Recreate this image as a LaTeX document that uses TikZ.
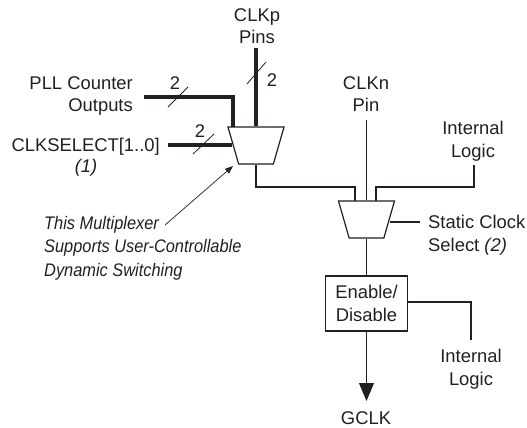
\documentclass[tikz,border=0pt]{standalone}
\usepackage{fontspec}
\setmainfont{Liberation Sans}
\newfontfamily\notefont[FakeStretch=0.9]{Liberation Sans}
\usepackage{tikz}
\usetikzlibrary{calc,arrows.meta,shapes.geometric}
\definecolor{ink}{HTML}{231F20}
\tikzset{
  x=1pt, y=-1pt,
  txt/.style={inner sep=0pt, align=center, text=ink, font=\fontsize{18.4}{22.5}\selectfont},
  thinwire/.style={draw=ink, line width=1.2pt},
  buswire/.style={draw=ink, line width=3.4pt},
  slashmark/.style={draw=ink, line width=0.8pt},
  muxbox/.style={trapezium, shape border rotate=180, draw=ink, line width=1.2pt,
    trapezium left angle=73, trapezium right angle=73, trapezium stretches=true,
    minimum width=56pt, minimum height=37pt, inner sep=1pt},
}
\begin{document}
\begin{tikzpicture}
\useasboundingbox (0,0) rectangle (527,428);
% labels
\node[txt] (clkp) at (257,26) {CLKp\\Pins};
\node[txt, align=right, anchor=east] (pll) at (133,96) {PLL Counter\\Outputs};
\node[txt, anchor=east] (clkselect) at (160,147) {CLKSELECT[1..0]};
\node[txt, font=\fontsize{18.4}{22.5}\selectfont\itshape] (noteone) at (86,168) {(1)};
\node[txt] (clkn) at (366,94) {CLKn\\Pin};
\node[txt] (logictop) at (473,141) {Internal\\Logic};
\node[txt, align=left, anchor=west] (static) at (428,235) {Static Clock\\Select \textit{(2)}};
\node[txt] (logicbot) at (471,369) {Internal\\Logic};
\node[txt] (gclk) at (366,418) {GCLK};
\node[txt, align=left, anchor=west, font=\notefont\fontsize{18.2}{23.6}\selectfont\itshape] (note) at (44,248) {This Multiplexer\\Supports User-Controllable\\Dynamic Switching};
\node[txt] (twoa) at (175,83) {2};
\node[txt] (twob) at (272,80) {2};
\node[txt] (twoc) at (200,131) {2};
% blocks
\node[muxbox] (muxa) at (256,145.5) {};
\node[muxbox] (muxb) at (366.5,219.5) {};
\node[draw=ink, line width=1.2pt, txt, minimum width=82pt, minimum height=55pt] (enable) at (366.5,303.5) {Enable/\\Disable};
% free ends
\coordinate (pllend) at (144,97);
\coordinate (clkpend) at (256,48);
\coordinate (selend) at (168,145);
\coordinate (muxaleft) at (233,127);
\coordinate (muxbleft) at (355,201);
\coordinate (muxbright) at (376,201);
\coordinate (muxbside) at (390,222);
\coordinate (staticend) at (420,222);
\coordinate (clknend) at (366.5,120);
\coordinate (logictopend) at (474,165);
\coordinate (logicbotend) at (471,340);
\coordinate (noteend) at (165,225);
% wires
\draw[buswire] (pllend) -| (muxaleft);
\draw[buswire] (clkpend) -- (muxa.north);
\draw[buswire] (selend) -- (232,145);
\draw[thinwire] (muxa.south) |- (355,187) -- (muxbleft);
\draw[thinwire] (clknend) -- (muxb.north);
\draw[thinwire] (logictopend) |- (376,187) -- (muxbright);
\draw[thinwire] (muxbside) -- (staticend);
\draw[thinwire] (muxb.south) -- (enable.north);
\draw[thinwire] (enable.east |- 0,302) -| (logicbotend);
\draw[thinwire, -{Triangle[length=18pt,width=15pt]}] (enable.south) -- (366.5,401);
% bus marks
\draw[slashmark] (168,107) -- (188,87);
\draw[slashmark] (247,84) -- (266,62);
\draw[slashmark] (193,154) -- (214,134);
% pointer
\draw[draw=ink, line width=0.7pt, -{Triangle[length=8pt,width=6pt]}] (noteend) -- (233,166);
\end{tikzpicture}
\end{document}
